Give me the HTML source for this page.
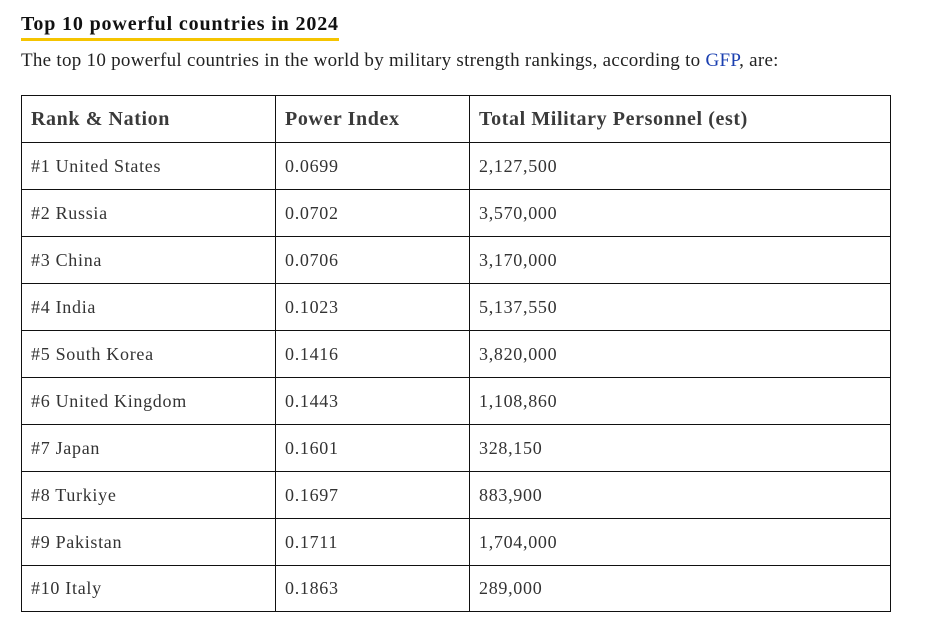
<!DOCTYPE html>
<html><head><style>
body{margin:0;background:#fff;font-family:"Liberation Serif","DejaVu Serif",serif;color:#222;}
.t{position:absolute;left:21px;top:12px;font-size:20px;letter-spacing:0.85px;font-weight:bold;color:#111;line-height:24px;padding-bottom:2px;border-bottom:3px solid #f5c400;}
.p{position:absolute;left:21px;top:49px;font-size:19px;letter-spacing:0.28px;line-height:24px;color:#222;}
.p a{color:#1a3fb0;text-decoration:none}
table{position:absolute;left:21px;top:95px;border-collapse:collapse;width:870px;}
td,th{border:1px solid #111;height:47px;padding:0 0 0 9px;text-align:left;font-size:18px;letter-spacing:0.7px;color:#333;box-sizing:border-box;}
tr:last-child td{height:46px;}
th{font-size:20px;letter-spacing:0.6px;font-weight:bold;color:#3a3a3a;}
</style></head><body>
<div class="t">Top 10 powerful countries in 2024</div>
<div class="p">The top 10 powerful countries in the world by military strength rankings, according to <a>GFP</a>, are:</div>
<table>
<colgroup><col style="width:254px"><col style="width:194px"><col></colgroup>
<tr><th>Rank &amp; Nation</th><th>Power Index</th><th>Total Military Personnel (est)</th></tr>
<tr><td>#1 United States</td><td>0.0699</td><td>2,127,500</td></tr>
<tr><td>#2 Russia</td><td>0.0702</td><td>3,570,000</td></tr>
<tr><td>#3 China</td><td>0.0706</td><td>3,170,000</td></tr>
<tr><td>#4 India</td><td>0.1023</td><td>5,137,550</td></tr>
<tr><td>#5 South Korea</td><td>0.1416</td><td>3,820,000</td></tr>
<tr><td>#6 United Kingdom</td><td>0.1443</td><td>1,108,860</td></tr>
<tr><td>#7 Japan</td><td>0.1601</td><td>328,150</td></tr>
<tr><td>#8 Turkiye</td><td>0.1697</td><td>883,900</td></tr>
<tr><td>#9 Pakistan</td><td>0.1711</td><td>1,704,000</td></tr>
<tr><td>#10 Italy</td><td>0.1863</td><td>289,000</td></tr>
</table>
</body></html>
